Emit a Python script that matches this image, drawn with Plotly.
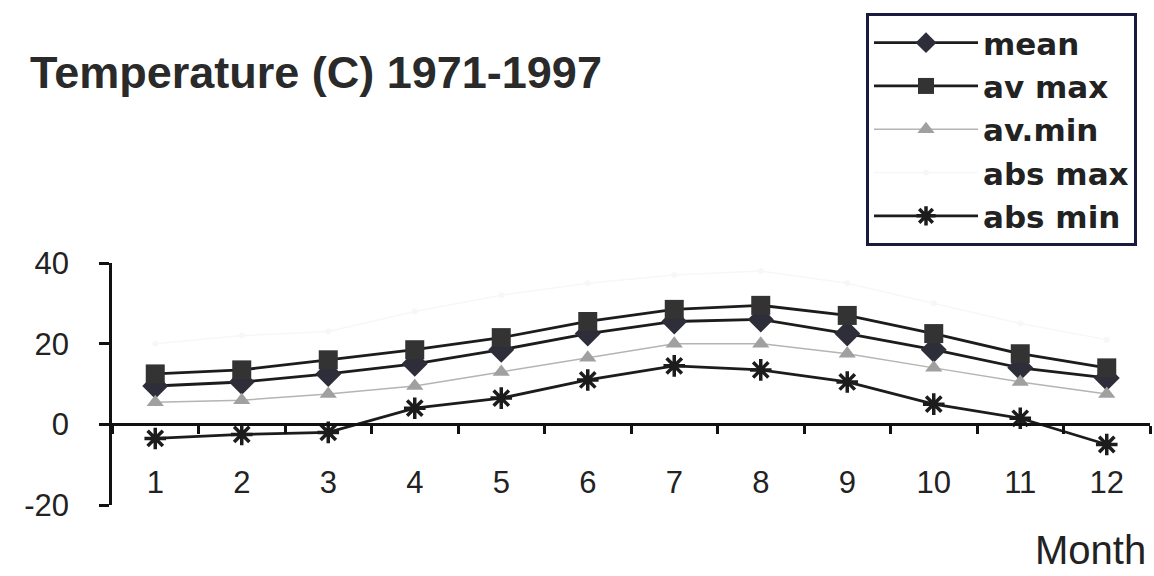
import plotly.graph_objects as go

# Monthly temperature statistics (deg C), 1971-1997
months = ["1", "2", "3", "4", "5", "6", "7", "8", "9", "10", "11", "12"]
mean_t = [9.5, 10.5, 12.5, 15, 18.5, 22.5, 25.5, 26, 22.5, 18.5, 14, 11.5]
av_max = [12.5, 13.5, 16, 18.5, 21.5, 25.5, 28.5, 29.5, 27, 22.5, 17.5, 14]
av_min = [5.5, 6, 7.5, 9.5, 13, 16.5, 20, 20, 17.5, 14, 10.5, 7.5]
abs_max = [20, 22, 23, 28, 32, 35, 37, 38, 35, 30, 25, 21]
abs_min = [-3.5, -2.5, -2, 4, 6.5, 11, 14.5, 13.5, 10.5, 5, 1.5, -5]
y_ticks = [-20, 0, 20, 40]
y_tick_text = ["-20", "0", "20", "40"]

W, H = 1154, 576
L, R, T, B = 112, 4, 263, 71
PW, PH = W - L - R, H - T - B


def px(x):
    return (x - L) / PW


def py(y):
    return (H - B - y) / PH


DARK = "#1c1c1c"

fig = go.Figure()
fig.add_trace(go.Scatter(
    x=months, y=mean_t, name="mean", mode="lines+markers",
    line=dict(color=DARK, width=2.8),
    marker=dict(symbol="diamond", size=20, color="#2e2e3a"),
))
fig.add_trace(go.Scatter(
    x=months, y=av_max, name="av max", mode="lines+markers",
    line=dict(color=DARK, width=2.8),
    marker=dict(symbol="square", size=19, color="#333333"),
))
fig.add_trace(go.Scatter(
    x=months, y=av_min, name="av.min", mode="lines+markers",
    line=dict(color="#b4b4b4", width=1.5),
    marker=dict(symbol="triangle-up", size=15, color="#a0a0a0"),
))
fig.add_trace(go.Scatter(
    x=months, y=abs_max, name="abs max", mode="lines+markers",
    line=dict(color="#f7f7f7", width=1.5),
    marker=dict(symbol="circle", size=6, color="#f7f7f7"),
))
fig.add_trace(go.Scatter(
    x=months, y=abs_min, name="abs min", mode="lines+markers",
    line=dict(color=DARK, width=2.8),
    marker=dict(symbol="asterisk-open", size=18,
                line=dict(color="#111111", width=3.5)),
))

fig.update_layout(
    width=W, height=H,
    margin=dict(l=L, r=R, t=T, b=B),
    paper_bgcolor="white", plot_bgcolor="white",
    font=dict(family="Liberation Sans, Arial, sans-serif", color="#222222"),
    showlegend=True,
    legend=dict(
        x=px(866), y=py(13), xanchor="left", yanchor="top",
        bgcolor="white", bordercolor="#1a1a40", borderwidth=3,
        font=dict(family="DejaVu Sans, Verdana, sans-serif", size=31,
                  color="#222222", weight="bold"),
        itemwidth=104,
    ),
    xaxis=dict(
        type="category", range=[-0.5, 11.5],
        anchor="free", position=20 / 60,
        showline=True, linecolor="#111111", linewidth=2.5,
        ticks="outside", tickson="boundaries", ticklen=8,
        tickwidth=2.5, tickcolor="#111111",
        ticklabelstandoff=30,
        tickfont=dict(size=31, color="#222222"),
        showgrid=False, zeroline=False,
    ),
    yaxis=dict(
        range=[-20, 40], tickvals=y_ticks, ticktext=y_tick_text,
        showline=True, linecolor="#111111", linewidth=2.5,
        ticks="outside", ticklen=10, tickwidth=2.5, tickcolor="#111111",
        ticklabelstandoff=24,
        tickfont=dict(size=31, color="#222222"),
        showgrid=False, zeroline=False,
    ),
    annotations=[
        dict(text="<b>Temperature (C) 1971-1997</b>",
             xref="paper", yref="paper", x=px(28), y=py(72),
             xanchor="left", yanchor="middle", showarrow=False,
             font=dict(family="Liberation Sans, Arial, sans-serif",
                       size=45, color="#2a2a2a")),
        dict(text="Month",
             xref="paper", yref="paper", x=px(1148), y=py(550),
             xanchor="right", yanchor="middle", showarrow=False,
             font=dict(size=40, color="#222222")),
    ],
)

fig.write_html("out.html")
